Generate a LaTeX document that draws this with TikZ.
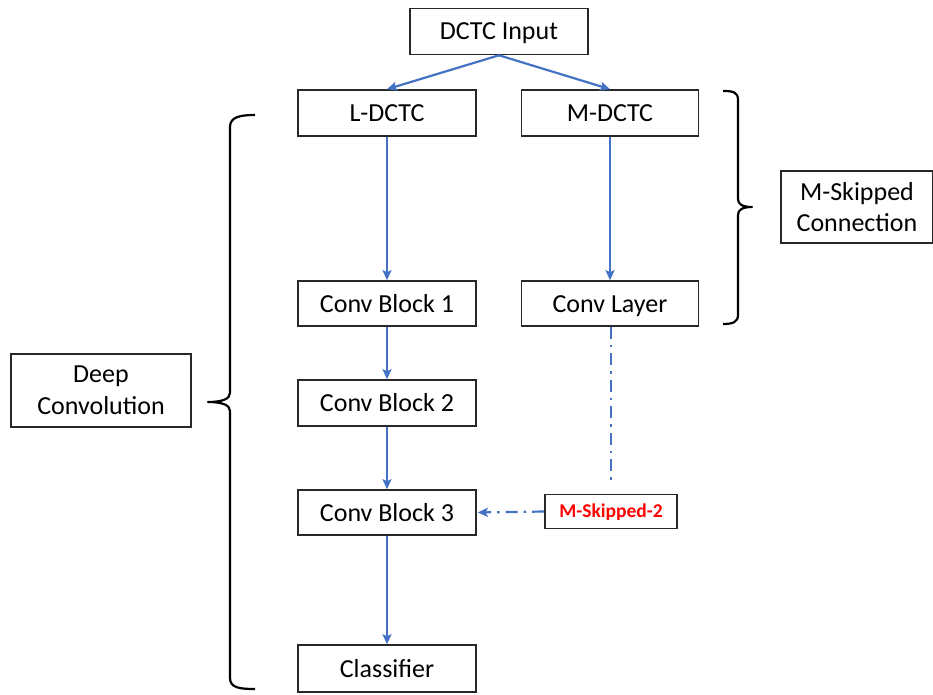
\documentclass[tikz,border=0pt]{standalone}
\usepackage{fontspec}
\setmainfont{Carlito}
\usetikzlibrary{arrows.meta}
\definecolor{flowblue}{RGB}{68,114,196}
\definecolor{boxline}{RGB}{40,40,40}
\tikzset{
  blockbox/.style={draw=boxline, line width=1.6pt, minimum width=178pt, minimum height=46pt,
    inner sep=0pt, text height=17pt, text depth=0pt, font=\fontsize{26}{31.7}\selectfont, align=center},
  labelbox/.style={draw=boxline, line width=1.6pt, inner sep=0pt,
    font=\fontsize{26}{31.7}\selectfont, align=center},
  skipbox/.style={draw=boxline, line width=1.6pt, minimum width=132pt, minimum height=34pt,
    inner sep=0pt, text height=12.5pt, text depth=0pt, text=red, font=\fontsize{19.5}{23}\selectfont\bfseries},
  flow/.style={draw=flowblue, line width=2.2pt, -{Stealth[length=10pt,width=9pt,inset=2pt]}},
  skipline/.style={draw=flowblue, line width=2.2pt, dash pattern=on 12pt off 6pt on 2.5pt off 6pt},
  bracket/.style={draw=black, line width=2.2pt, line join=round}
}
\begin{document}
\begin{tikzpicture}[x=1pt, y=-1pt]
  \useasboundingbox (0,0) rectangle (933,695);

  % main column and side branch
  \node[blockbox] (input)  at (499,31.5)  {DCTC Input};
  \node[blockbox] (ldctc)  at (387,113)   {L-DCTC};
  \node[blockbox, minimum width=177pt] (mdctc) at (610,113) {M-DCTC};
  \node[blockbox, minimum height=45pt] (cb1) at (387,303.5) {Conv Block 1};
  \node[blockbox, minimum width=177pt, minimum height=45pt] (clayer) at (610,303.5) {Conv Layer};
  \node[blockbox] (cb2)    at (387,403) {Conv Block 2};
  \node[blockbox, minimum height=45pt] (cb3) at (387,512.5) {Conv Block 3};
  \node[skipbox]  (msk2)   at (611,511.5) {M-Skipped-2};
  \node[blockbox, minimum height=47pt] (cls) at (387,668.5) {Classifier};

  % group labels
  \node[labelbox, minimum width=180pt, minimum height=73pt] (deep) at (101,390.5) {Deep\\Convolution};
  \node[labelbox, minimum width=152pt, minimum height=72pt] (mskc) at (857,207) {M-Skipped\\Connection};

  % data flow
  \draw[flow] (input.south) -- (ldctc.north);
  \draw[flow] (input.south) -- (mdctc.north);
  \draw[flow] (ldctc) -- (cb1);
  \draw[flow] (mdctc) -- (clayer);
  \draw[flow] (cb1) -- (cb2);
  \draw[flow] (cb2) -- (cb3);
  \draw[flow] (cb3) -- (cls);

  % skipped connection
  \draw[skipline, shorten >=10pt] (clayer.south -| msk2.north) -- (msk2.north);
  \draw[skipline, -{Stealth[length=10pt,width=9pt,inset=2pt]}, shorten >=1pt] (msk2.west) -- (cb3.east);

  % grouping brackets
  \draw[bracket] (255,115) .. controls (240,115) and (230,117) .. (230,127)
    -- (230,393) .. controls (230,399) and (222,402) .. (208,402)
    .. controls (222,402) and (230,405) .. (230,411)
    -- (230,678) .. controls (230,688) and (240,689) .. (255,689);
  \draw[bracket] (723,91) .. controls (733,91) and (738,92) .. (738,100)
    -- (738,199) .. controls (738,204) and (742,207) .. (752,207)
    .. controls (742,207) and (738,210) .. (738,215)
    -- (738,315) .. controls (738,322) and (733,324) .. (723,324);
\end{tikzpicture}
\end{document}
